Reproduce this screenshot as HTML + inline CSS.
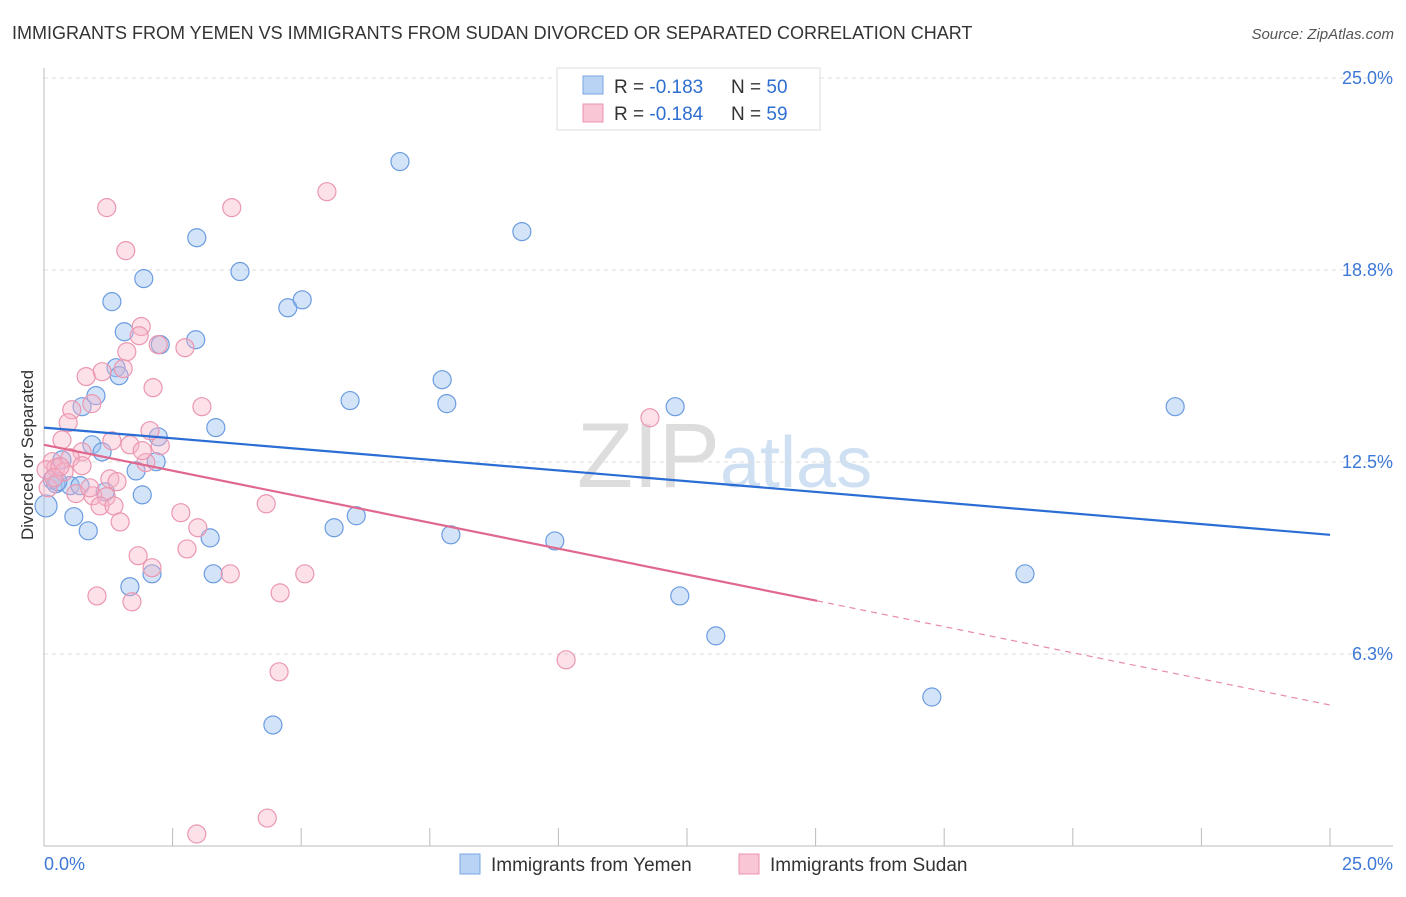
<!DOCTYPE html>
<html><head><meta charset="utf-8"><style>
body{margin:0;background:#fff;font-family:"Liberation Sans",sans-serif;}
svg text{font-family:"Liberation Sans",sans-serif;}
</style></head><body>
<svg id="c" width="1406" height="892" xmlns="http://www.w3.org/2000/svg">
<text x="12" y="39" font-size="18" fill="#333">IMMIGRANTS FROM YEMEN VS IMMIGRANTS FROM SUDAN DIVORCED OR SEPARATED CORRELATION CHART</text>
<text x="1394" y="39" font-size="15" fill="#555" font-style="italic" text-anchor="end">Source: ZipAtlas.com</text>
<text x="33" y="455" font-size="17" fill="#333" text-anchor="middle" transform="rotate(-90 33 455)">Divorced or Separated</text>
<text x="720" y="487" font-size="92" fill="#ddd" text-anchor="end" font-family="Liberation Serif">ZIP</text>
<text x="720" y="487" font-size="72" fill="#cfe0f3">atlas</text>
<g id="grid"></g><g id="pts"></g><g id="lines"></g>
<g>
<rect x="557" y="68" width="263" height="62" fill="#fff" stroke="#ddd"/>
<rect x="583" y="76" width="20" height="18" fill="#b9d3f5" stroke="#7aa6e3"/>
<text x="614" y="93" font-size="19" fill="#333">R = <tspan fill="#2f6fd0">-0.183</tspan><tspan x="731">N = </tspan><tspan fill="#2f6fd0">50</tspan></text>
<rect x="583" y="104" width="20" height="18" fill="#f9c6d5" stroke="#ec93ae"/>
<text x="614" y="120" font-size="19" fill="#333">R = <tspan fill="#2f6fd0">-0.184</tspan><tspan x="731">N = </tspan><tspan fill="#2f6fd0">59</tspan></text>
</g>
<g>
<rect x="460" y="854" width="20" height="20" fill="#b9d3f5" stroke="#7aa6e3"/>
<text x="491" y="871" font-size="19" fill="#333">Immigrants from Yemen</text>
<rect x="739" y="854" width="20" height="20" fill="#f9c6d5" stroke="#ec93ae"/>
<text x="770" y="871" font-size="19" fill="#333">Immigrants from Sudan</text>
</g>
</svg>
<script>
const yTicks=[25,18.75,12.5,6.25];
const yTickLabels=["25.0%","18.8%","12.5%","6.3%"];
const xTickLabels=["0.0%","25.0%"];
const yemenX=[6.92,9.29,2.97,3.81,1.94,1.32,4.74,5.02,1.56,2.95,2.26,1.40,1.46,1.01,0.74,7.74,7.83,5.95,12.27,21.99,3.34,2.22,0.93,1.13,0.35,2.18,1.79,0.16,0.51,0.23,0.70,1.19,1.91,0.04,0.58,0.86,5.64,6.07,7.91,9.93,3.23,3.29,2.10,1.67,19.07,12.36,13.06,17.26,4.45,0.27];
const yemenY=[22.28,20.0,19.8,18.7,18.47,17.72,17.52,17.78,16.74,16.48,16.32,15.57,15.31,14.66,14.30,15.18,14.40,14.50,14.30,14.30,13.62,13.32,13.06,12.83,12.57,12.51,12.21,11.92,11.73,11.79,11.73,11.53,11.43,11.07,10.72,10.26,10.36,10.75,10.13,9.93,10.03,8.86,8.86,8.44,8.86,8.14,6.84,4.85,3.94,11.86];
const sudanX=[5.50,1.22,3.65,1.59,1.89,1.85,1.61,2.22,2.74,1.54,1.13,0.82,2.12,0.93,3.07,0.54,0.47,2.06,2.26,1.32,1.67,0.35,0.74,0.51,0.16,0.23,0.39,0.04,0.31,0.08,0.74,1.98,0.95,1.21,1.28,1.42,1.91,0.62,1.09,1.36,1.48,2.66,2.99,4.32,2.78,1.83,2.10,3.62,5.07,1.03,1.71,4.59,11.78,10.15,4.57,2.97,4.34,0.89,0.19];
const sudanY=[21.30,20.78,20.78,19.38,16.91,16.61,16.09,16.32,16.22,15.54,15.44,15.28,14.92,14.40,14.30,14.20,13.78,13.52,13.03,13.19,13.06,13.22,12.83,12.64,12.51,12.31,12.18,12.25,12.35,11.66,12.38,12.48,11.40,11.37,11.95,11.86,12.87,11.47,11.07,11.07,10.55,10.85,10.36,11.14,9.67,9.45,9.06,8.86,8.86,8.14,7.95,8.24,13.94,6.06,5.67,0.39,0.91,11.66,11.99];
const yemenTrend=[13.62,10.13];
const sudanTrend=[13.06,7.98,4.59];
const sudanSolidEnd=15.03;
const NS="http://www.w3.org/2000/svg";
const X=v=>44+v*51.44, Y=v=>846-v*30.72;
function mk(t,a,p){const e=document.createElementNS(NS,t);for(const k in a)e.setAttribute(k,a[k]);p.appendChild(e);return e;}
const g=document.getElementById('grid');
yTicks.forEach((t,i)=>{
 const l=mk('line',{x1:44,x2:1393,y1:Y(t),y2:Y(t),stroke:'#ddd','stroke-dasharray':'4,4'},g);
 
 
 const tx=mk('text',{x:1393,y:Y(t)+6,'font-size':18,fill:'#3d78d6','text-anchor':'end'},g);tx.textContent=yTickLabels[i];
 
 
});
const ax=mk('line',{x1:44,x2:44,y1:68,y2:846,stroke:'#bbb'},g);


const bx=mk('line',{x1:44,x2:1393,y1:846,y2:846,stroke:'#bbb'},g);


for(let i=0;i<=10;i++){const t=mk('line',{x1:X(i*2.5),x2:X(i*2.5),y1:828,y2:846,stroke:'#bbb'},g);
 
 }
[[0,'start',44],[25,'end',1393]].forEach((a,i)=>{const t=mk('text',{x:a[2],y:870,'font-size':18,fill:'#3d78d6','text-anchor':a[1]},g);t.textContent=xTickLabels[i];
 
 });
const p=document.getElementById('pts');
yemenX.forEach((x,i)=>{const c=mk('circle',{cx:X(x),cy:Y(yemenY[i]),r:i==33?11:9,fill:'rgba(160,195,240,0.45)',stroke:'#6b9ce0','stroke-width':1.2},p);
 
 });
sudanX.forEach((x,i)=>{const c=mk('circle',{cx:X(x),cy:Y(sudanY[i]),r:9,fill:'rgba(247,180,200,0.4)',stroke:'#eb97b0','stroke-width':1.2},p);
 
 });
const L=document.getElementById('lines');
const l1=mk('line',{x1:X(0),y1:Y(yemenTrend[0]),x2:X(25),y2:Y(yemenTrend[1]),stroke:'#2a6dd4','stroke-width':2.2},L);


const l2=mk('line',{x1:X(0),y1:Y(sudanTrend[0]),x2:X(sudanSolidEnd),y2:Y(sudanTrend[1]),stroke:'#e0688f','stroke-width':2.2},L);


const l3=mk('line',{x1:X(sudanSolidEnd),y1:Y(sudanTrend[1]),x2:X(25),y2:Y(sudanTrend[2]),stroke:'#e88aa8','stroke-width':1.2,'stroke-dasharray':'6,5'},L);


</script>
</body></html>
